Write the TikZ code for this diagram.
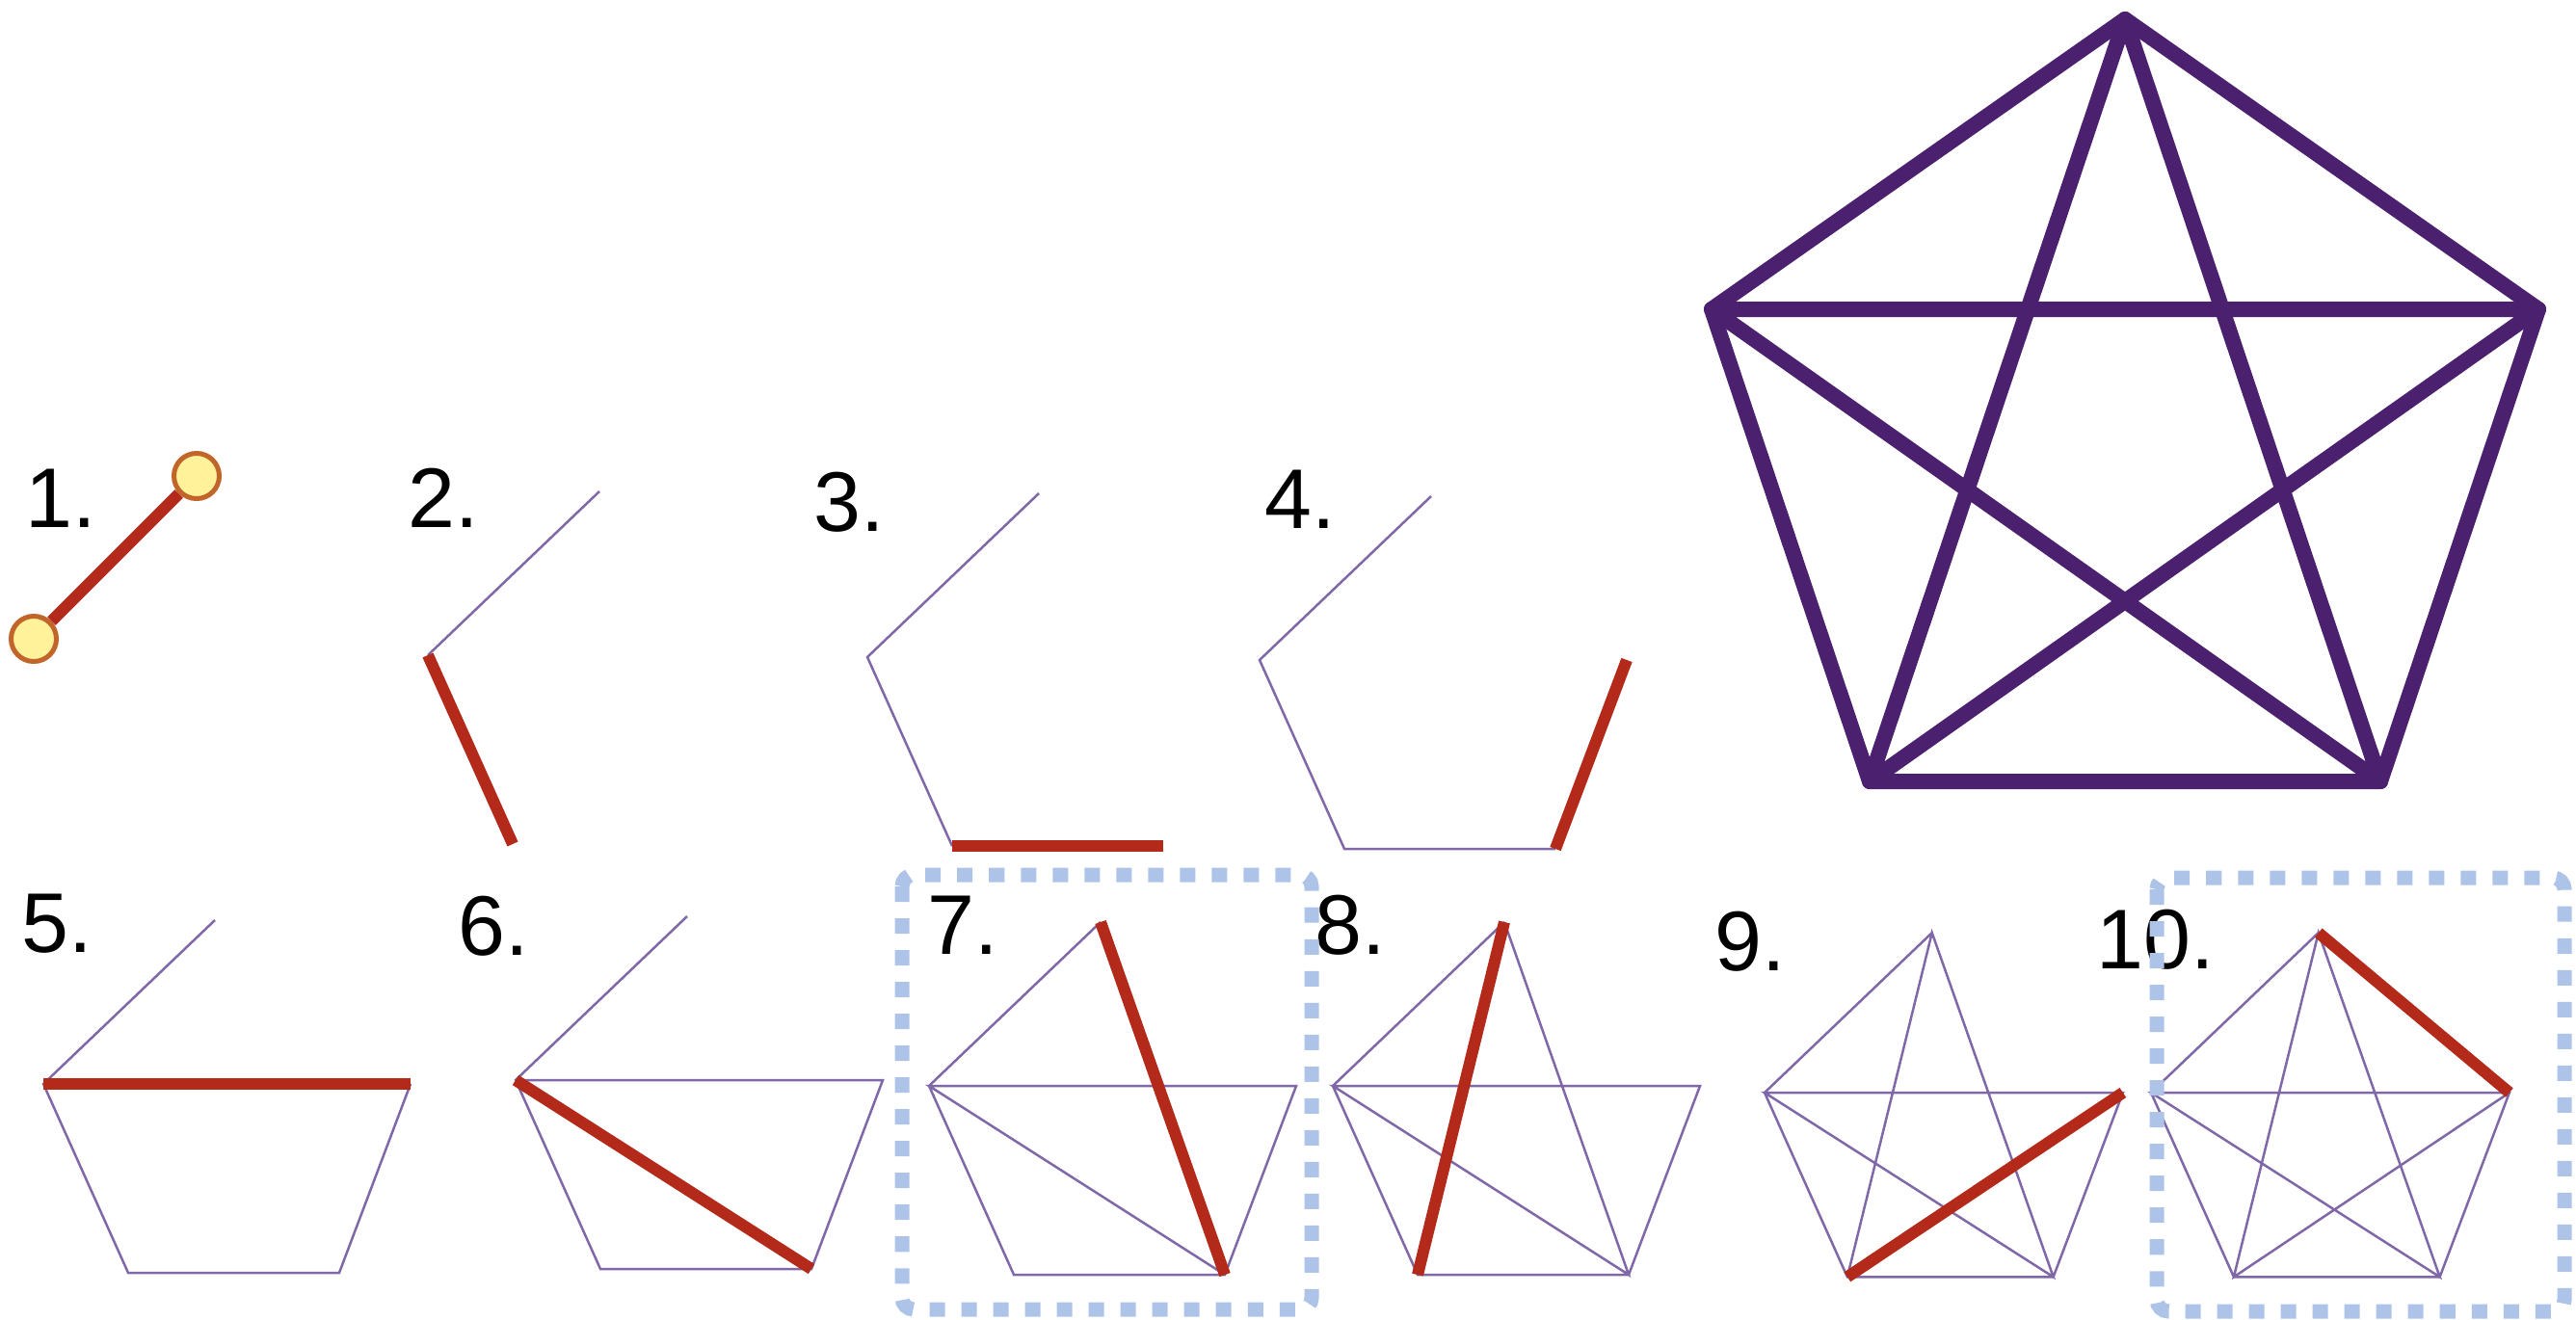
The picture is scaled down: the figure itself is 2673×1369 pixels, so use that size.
\documentclass[tikz,border=0pt]{standalone}
\usepackage{fontspec}
\setmainfont{Liberation Sans}
\usepackage{tikz}
\usetikzlibrary{positioning,calc}
\definecolor{EdgePurple}{HTML}{8068A8}
\definecolor{DeepPurple}{HTML}{4B206E}
\definecolor{HotRed}{HTML}{B3291A}
\definecolor{FrameBlue}{HTML}{AEC3E8}
\definecolor{DotFill}{HTML}{FFF29B}
\definecolor{DotRim}{HTML}{C2652A}

\begin{document}
\begin{tikzpicture}[x=0.01cm,y=-0.01cm,
          every node/.style={font=\fontsize{25pt}{30pt}\selectfont},
          num/.style={anchor=base west,inner sep=0pt},
          faint/.style={EdgePurple,line width=0.025cm},
          hot/.style={HotRed,line width=0.12cm},
          bigedge/.style={DeepPurple,line width=0.16cm,line cap=round,line join=round},
          endpt/.style={circle,draw=DotRim,fill=DotFill,line width=0.05cm,
            minimum size=0.47cm,inner sep=0pt},
          hlbox/.style={FrameBlue,line width=0.15cm,
            dash pattern=on 0.16cm off 0.17cm,rounded corners=0.12cm}]
        \useasboundingbox (0,0) rectangle (2673,1369);

        % small pentagons, one per step
        \foreach \n/\x/\y/\s in {2/444/680/1,3/900/682/1,4/1307/685/1,
            5/45/1125/1,6/535/1121/1,7/964/1127/1,8/1383/1127/1,
            9/1831/1134/0.976,10/2232/1134/0.976}{
          \coordinate (L\n)  at (\x,\y);
          \coordinate (T\n)  at (\x+178*\s,\y-170*\s);
          \coordinate (R\n)  at (\x+381*\s,\y);
          \coordinate (BL\n) at (\x+88*\s,\y+196*\s);
          \coordinate (BR\n) at (\x+307*\s,\y+196*\s);
        }

        % labels
        \node[num] (n1)  at (26,547)   {1.};
        \node[num] (n2)  at (423,547)  {2.};
        \node[num] (n3)  at (844,551)  {3.};
        \node[num] (n4)  at (1312,548) {4.};
        \node[num] (n5)  at (22,988)   {5.};
        \node[num] (n6)  at (475,991)  {6.};
        \node[num] (n7)  at (962,990)  {7.};
        \node[num] (n8)  at (1364,990) {8.};
        \node[num] (n9)  at (1779,1007) {9.};
        \node[num] (n10) at (2175,1005) {10.};

        % step 1
        \node[endpt] (a1) at (204,494) {};
        \node[endpt] (b1) at (35,663)  {};
        \draw[hot] (b1) -- (a1);

        % steps 2 to 10
        \draw[faint] (T2)--(L2);
        \draw[hot]   (L2)--(BL2);
        \draw[faint] (T3)--(L3)--(BL3);
        \draw[hot]   (BL3)--(BR3);
        \draw[faint] (T4)--(L4)--(BL4)--(BR4);
        \draw[hot]   (BR4)--(R4);
        \draw[faint] (T5)--(L5)--(BL5)--(BR5)--(R5);
        \draw[hot]   (L5)--(R5);
        \draw[faint] (T6)--(L6)--(BL6)--(BR6)--(R6)--(L6);
        \draw[hot]   (L6)--(BR6);
        \draw[faint] (T7)--(L7)--(BL7)--(BR7)--(R7)--(L7)--(BR7);
        \draw[hot]   (T7)--(BR7);
        \draw[faint] (T8)--(L8)--(BL8)--(BR8)--(R8)--(L8)--(BR8)--(T8);
        \draw[hot]   (T8)--(BL8);
        \draw[faint] (T9)--(L9)--(BL9)--(BR9)--(R9)--(L9)--(BR9)--(T9)--(BL9);
        \draw[hot]   (BL9)--(R9);
        \draw[faint] (T10)--(L10)--(BL10)--(BR10)--(R10)--(L10)--(BR10)--(T10)--(BL10)--(R10);
        \draw[hot]   (T10)--(R10);

        \draw[hlbox] (936,908) rectangle (1361,1359);
        \draw[hlbox] (2238,911) rectangle (2661,1361);

        % complete graph
        \coordinate (bT)  at (2205,20);
        \coordinate (bL)  at (1776,321);
        \coordinate (bR)  at (2634,321);
        \coordinate (bBL) at (1940,811);
        \coordinate (bBR) at (2470,811);
        \draw[bigedge] (bT)--(bR)--(bBR)--(bBL)--(bL)--cycle;
        \draw[bigedge] (bT)--(bBL) (bT)--(bBR) (bL)--(bR) (bL)--(bBR) (bR)--(bBL);
      \end{tikzpicture}
\end{document}
